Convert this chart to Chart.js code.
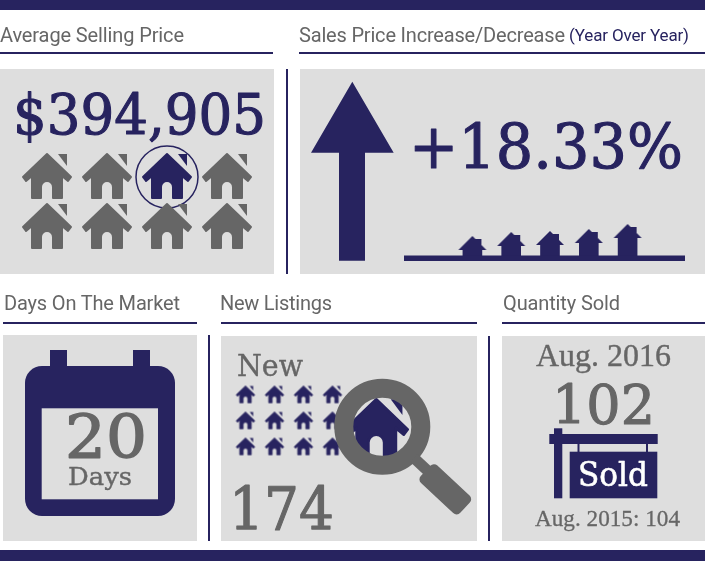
<!DOCTYPE html>
<html>
<head>
<meta charset="utf-8">
<script src="https://cdn.jsdelivr.net/npm/chart.js@4"></script>
<style>
html,body{margin:0;padding:0;background:#fff;width:705px;height:561px;overflow:hidden}
#stage{position:relative;width:705px;height:561px}
#stage svg,#stage canvas{position:absolute}
.h{font-family:Roboto,sans-serif}
.s{font-family:"DejaVu Serif",serif;stroke-linejoin:round}
.l{font-family:"Liberation Serif",serif;stroke-linejoin:round}
</style>
</head>
<body>
<div id="stage">
<svg width="705" height="561" style="left:0;top:0">
  <g fill="#27235f">
    <rect x="0" y="0" width="705" height="10"/><rect x="0" y="550" width="705" height="11"/>
    <rect x="0" y="52" width="273" height="2"/><rect x="299" y="52" width="406" height="2"/>
    <rect x="3" y="322" width="194" height="2"/><rect x="221" y="322" width="256" height="2"/><rect x="502" y="322" width="203" height="2"/>
    <rect x="286" y="69" width="2" height="205"/><rect x="208" y="335" width="2" height="206"/><rect x="488" y="336" width="2" height="205"/>
  </g>
  <g fill="#dedede">
    <rect x="0" y="69" width="274" height="205"/><rect x="300" y="69" width="405" height="205"/>
    <rect x="3" y="335" width="194" height="206"/><rect x="221" y="336" width="256" height="205"/><rect x="502" y="336" width="203" height="205"/>
  </g>
</svg>
<canvas id="priceHouses" width="260" height="120" style="left:7px;top:142px"></canvas>
<canvas id="growthHouses" width="194" height="44" style="left:453px;top:212px"></canvas>
<canvas id="listingHouses" width="116" height="78" style="left:231px;top:382px"></canvas>
<svg id="top" width="705" height="561" style="left:0;top:0">
  <defs><clipPath id="lens"><circle cx="382.3" cy="426.7" r="30"/></clipPath></defs>
  <g fill="#27235f">
    <polygon points="352.3,81.7 393.7,152.7 365,152.7 365,260.7 339,260.7 339,152.7 311,152.7"/>
    <rect x="404" y="255.5" width="281" height="5.5"/>
    <rect x="50" y="350" width="17" height="20"/><rect x="133" y="350" width="17" height="20"/>
    <rect x="25" y="366" width="150" height="150" rx="17"/>
    <rect x="554" y="428.3" width="8.3" height="70"/>
    <rect x="549.3" y="434" width="108.4" height="10"/>
    <rect x="577.5" y="444" width="2" height="8"/><rect x="646" y="444" width="2" height="8"/>
    <rect x="569.7" y="451.7" width="87.6" height="46.6"/>
  </g>
  <rect x="41.7" y="408.3" width="116.3" height="91" fill="#dedede"/>
  <circle cx="382.3" cy="426.7" r="30" fill="#dedede"/>
  <g clip-path="url(#lens)">
    <g transform="translate(342.2,398) scale(1.31)" fill="#27235f">
      <path stroke="#27235f" stroke-width="2" stroke-linejoin="round" d="M26 1L50 24L47 28L41 23V45H32V34A6 6 0 0 0 20 34V45H11V23L5 28L2 24Z"/>
      <path d="M37 1H46V13Z"/>
    </g>
  </g>
  <g fill="none" stroke="#666">
    <circle cx="382.3" cy="426.7" r="38.5" stroke-width="19"/>
    <line x1="414" y1="458" x2="430" y2="473" stroke-width="11"/>
  </g>
  <rect x="-27" y="-12" width="54" height="24" rx="5" fill="#666" transform="translate(445.3,489.3) rotate(43)"/>
  <g id="labels"></g>
</svg>
</div>
<script>
// ---- values ----
const averagePrice = [394905];
const priceChangePct = [18.33];
const daysOnMarket = [20];
const newListings = [174];
const soldCurrent = [102];
const soldPrevious = [104];
const periods = ['Aug. 2016', 'Aug. 2015'];
const growthBodyHeights = [6, 10, 11, 13, 18];
const growthLabels = ['1', '2', '3', '4', '5'];
const priceHouseCols = [1, 2, 3, 4];
const priceHouseRows = [1, 2];
const priceHighlight = [3, 1];
const listingHouseCols = [1, 2, 3, 4];
const listingHouseRows = [1, 2, 3];
const titles = ['Average Selling Price', 'Sales Price Increase/Decrease', '(Year Over Year)', 'Days On The Market', 'New Listings', 'Quantity Sold'];

const NAVY = '#27235f', GREY = '#666666';

function houseIcon(w, color) {
  const k = w / 52, c = document.createElement('canvas');
  c.width = Math.ceil(w) + 2; c.height = Math.ceil(48 * k) + 2;
  const g = c.getContext('2d');
  g.translate(1, 1); g.scale(k, k);
  g.fillStyle = g.strokeStyle = color; g.lineJoin = 'round'; g.lineWidth = 2;
  g.beginPath(); g.moveTo(26,1); g.lineTo(50,24); g.lineTo(47,28); g.lineTo(41,23); g.lineTo(41,45);
  g.lineTo(32,45); g.lineTo(32,34); g.arc(26,34,6,0,Math.PI,true); g.lineTo(20,45); g.lineTo(11,45);
  g.lineTo(11,23); g.lineTo(5,28); g.lineTo(2,24); g.closePath(); g.fill(); g.stroke();
  g.beginPath(); g.moveTo(37,1); g.lineTo(46,1); g.lineTo(46,13); g.closePath(); g.fill();
  return c;
}
function roofIcon() {
  const c = document.createElement('canvas'); c.width = 30; c.height = 30;
  const g = c.getContext('2d'); g.fillStyle = NAVY;
  g.beginPath(); g.moveTo(15,1); g.lineTo(29,15); g.lineTo(1,15); g.closePath(); g.fill();
  g.fillRect(17,4,7,11);
  return c;
}
const base = {
  responsive:false, animation:false, events:[],
  plugins:{legend:{display:false},tooltip:{enabled:false}}
};

const greyHouse = houseIcon(52, GREY), navyHouse = houseIcon(52, NAVY);
const pricePts = [];
priceHouseRows.forEach(r => priceHouseCols.forEach(c => pricePts.push({x:c, y:r})));
new Chart(document.getElementById('priceHouses'), {
  type:'scatter',
  data:{datasets:[
    {data:pricePts, clip:false, order:1,
     pointStyle:ctx => (ctx.raw.x===priceHighlight[0] && ctx.raw.y===priceHighlight[1]) ? navyHouse : greyHouse},
    {data:[{x:priceHighlight[0], y:priceHighlight[1]}], clip:false, order:2, pointStyle:'circle', pointRadius:31,
     backgroundColor:'transparent', borderColor:NAVY, borderWidth:1.5}
  ]},
  options:{...base, layout:{padding:10, autoPadding:false},
    scales:{x:{display:false,min:0.5,max:4.5},y:{display:false,min:0.5,max:2.5,reverse:true}}}
});

new Chart(document.getElementById('growthHouses'), {
  type:'bar',
  data:{labels:growthLabels, datasets:[
    {type:'line', data:growthBodyHeights, showLine:false, pointStyle:roofIcon(), clip:false, order:1},
    {data:growthBodyHeights, backgroundColor:NAVY, barThickness:19, order:2}
  ]},
  options:{...base, layout:{autoPadding:false}, scales:{x:{display:false},y:{display:false,min:0,max:44}}}
});

const smallHouse = houseIcon(20, NAVY);
const listingPts = [];
listingHouseRows.forEach(r => listingHouseCols.forEach(c => listingPts.push({x:c, y:r})));
new Chart(document.getElementById('listingHouses'), {
  type:'scatter',
  data:{datasets:[{data:listingPts, pointStyle:smallHouse, clip:false}]},
  options:{...base, layout:{autoPadding:false}, scales:{x:{display:false,min:0.5,max:4.5},y:{display:false,min:0.5,max:3.5,reverse:true}}}
});

// ---- text ----
const layer = document.getElementById('labels');
function t(str, x, y, len, cls, size, fill, adjust, weight) {
  const e = document.createElementNS('http://www.w3.org/2000/svg','text');
  e.textContent = str; e.setAttribute('x',x); e.setAttribute('y',y);
  e.setAttribute('class',cls); e.style.fontSize = size+'px'; e.style.fill = fill;
  if (weight) { e.style.stroke = fill; e.style.strokeWidth = weight; }
  e.setAttribute('textLength',len); e.setAttribute('lengthAdjust',adjust||'spacingAndGlyphs');
  layer.appendChild(e);
  return e;
}
t(titles[0], 0, 42, 184, 'h', 20, GREY, 'spacing');
t(titles[1], 299, 42, 266, 'h', 20, GREY, 'spacing');
t(titles[2], 569, 41, 120, 'h', 17, NAVY, 'spacing');
t(titles[3], 4, 309.5, 176, 'h', 20, GREY, 'spacing');
t(titles[4], 220, 309.5, 112, 'h', 20, GREY, 'spacing');
t(titles[5], 503, 309.5, 117, 'h', 20, GREY, 'spacing');
t('$' + averagePrice[0].toLocaleString('en-US'), 13, 134, 253, 's', 56, NAVY, null, 1.1);
t('+' + priceChangePct[0].toFixed(2) + '%', 409, 168, 274, 's', 62, NAVY, null, 1.1);
t(String(daysOnMarket[0]), 65, 458, 82, 's', 59, GREY, null, 1.4);
t('Days', 68, 485, 64, 's', 25, GREY, null, 0.4);
t('New', 237, 376, 66, 's', 30, GREY, null, 0.4);
t(String(newListings[0]), 229, 530, 105, 's', 60, GREY, null, 1.1);
t(periods[0], 536, 366, 135, 'l', 32, GREY, null, 0.4);
t(String(soldCurrent[0]), 552, 424, 103, 's', 55, GREY, null, 1.1);
t('Sold', 578, 486, 70, 's', 33, '#ffffff', null, 0.6);
t(periods[1] + ': ' + soldPrevious[0], 535, 526, 145, 'l', 24, GREY, null, 0.3);
</script>
</body>
</html>
